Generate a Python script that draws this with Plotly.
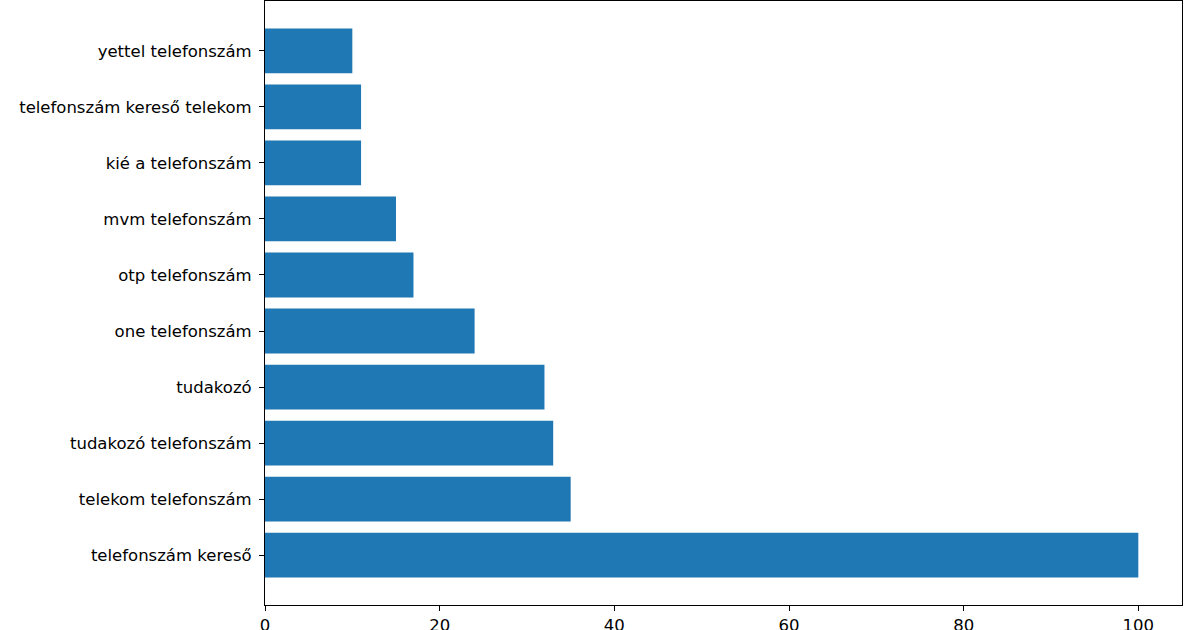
import plotly.graph_objects as go

categories = ["telefonszám kereső", "telekom telefonszám", "tudakozó telefonszám", "tudakozó",
              "one telefonszám", "otp telefonszám", "mvm telefonszám", "kié a telefonszám",
              "telefonszám kereső telekom", "yettel telefonszám"]
values = [100, 35, 33, 32, 24, 17, 15, 11, 11, 10]
x_ticks = [0, 20, 40, 60, 80, 100]

fig = go.Figure(go.Bar(
    x=values, y=list(range(len(categories))), orientation="h",
    width=0.8, marker=dict(color="#1f77b4", line=dict(width=0)),
))

axis_common = dict(showgrid=False, zeroline=False, showline=True, linecolor="black", linewidth=1,
                   mirror=True, ticks="outside", ticklen=5, tickcolor="black", tickwidth=1,
                   automargin=False,
                   tickfont=dict(family="DejaVu Sans", size=16.5, color="black"))
fig.update_xaxes(range=[0, 105], tickvals=x_ticks, ticktext=[str(v) for v in x_ticks],
                 ticklabelstandoff=0, **axis_common)
fig.update_yaxes(range=[-0.89, 9.89], tickvals=list(range(len(categories))), ticktext=categories,
                 ticklabelstandoff=4, **axis_common)

fig.update_layout(
    width=1200, height=630, margin=dict(l=265, r=18, t=1, b=25),
    plot_bgcolor="white", paper_bgcolor="white", showlegend=False,
    font=dict(family="DejaVu Sans", size=16.5, color="black"),
)
fig.write_html("out.html")
